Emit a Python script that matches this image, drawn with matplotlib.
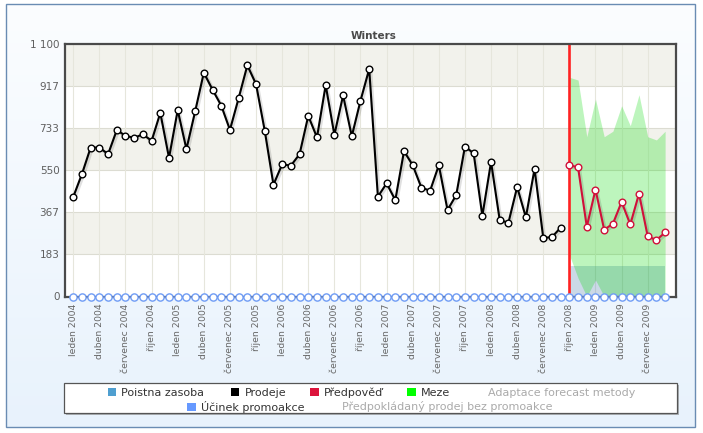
import matplotlib
matplotlib.use("Agg")
import matplotlib.pyplot as plt
import matplotlib.patheffects as pe
from matplotlib.patches import Rectangle
import numpy as np

# ---------------- data ----------------
sales = [434, 534, 649, 649, 620, 725, 700, 691, 707, 678,
         800, 604, 812, 642, 806, 975, 901, 832, 726, 864,
         1007, 925, 722, 487, 576, 570, 620, 787, 693, 921,
         704, 876, 698, 853, 991, 435, 493, 420, 633, 572,
         474, 461, 572, 377, 442, 653, 624, 351, 586, 332,
         322, 477, 345, 556, 255, 259, 300]
forecast = [573, 562, 304, 466, 291, 317, 412, 314, 448, 262, 246, 279]
bound_upper = [955, 943, 696, 860, 696, 720, 831, 744, 879, 696, 682, 720]
bound_lower = [181, 80, 0, 72, 0, 0, 0, 0, 0, 0, 0, 0]
safety_stock = [133, 133, 133, 133, 133, 133, 133, 133, 133, 133, 133, 133]
promo_effect = [0] * 69

tick_labels = ["leden 2004", "duben 2004", "červenec 2004", "říjen 2004",
               "leden 2005", "duben 2005", "červenec 2005", "říjen 2005",
               "leden 2006", "duben 2006", "červenec 2006", "říjen 2006",
               "leden 2007", "duben 2007", "červenec 2007", "říjen 2007",
               "leden 2008", "duben 2008", "červenec 2008", "říjen 2008",
               "leden 2009", "duben 2009", "červenec 2009"]
y_ticks = [0, 183.33, 366.67, 550, 733.33, 916.67, 1100]
y_tick_labels = ["0", "183", "367", "550", "733", "917", "1 100"]
title = "Winters"

legend_row1 = ["Poistna zasoba", "Prodeje", "Předpověď", "Meze", "Adaptace forecast metody"]
legend_row2 = ["Účinek promoakce", "Předpokládaný prodej bez promoakce"]

# ---------------- figure ----------------
W, H = 703, 433
fig = plt.figure(figsize=(W / 100, H / 100), dpi=100)
fig.patch.set_facecolor("white")

# background with gradient and border
bg = fig.add_axes([0, 0, 1, 1], zorder=-10)
bg.axis("off")
grad = np.linspace(0, 1, 200).reshape(-1, 1)
c_top = np.array([0.985, 0.992, 1.0])
c_bot = np.array([0.91, 0.95, 0.99])
img = c_top[None, None, :] * (1 - grad[:, :, None]) + c_bot[None, None, :] * grad[:, :, None]
bg.imshow(img, extent=(6, 695, 427, 4), aspect="auto", interpolation="bilinear")
bg.add_patch(Rectangle((6, 4), 689, 423, fill=False, edgecolor="#6a8cb3", lw=1.0))
bg.set_xlim(0, W)
bg.set_ylim(H, 0)

# main axes
L, R, T, B = 65, 676, 44, 296.5
ax = fig.add_axes([L / W, 1 - B / H, (R - L) / W, (B - T) / H])
ax.set_facecolor("white")

n_sales = len(sales)
x_sales = np.arange(n_sales)
x_fc = np.arange(n_sales, n_sales + len(forecast))
x_all = np.arange(len(promo_effect))

ax.set_xlim(-0.95, 69.25)
ax.set_ylim(0, 1100)

# bands
for k in range(6):
    if k % 2 == 1:
        ax.axhspan(y_ticks[k], y_ticks[k + 1], color="#f2f2ec", zorder=0, lw=0)
for yt in y_ticks[1:-1]:
    ax.axhline(yt, color="#dcdcd2", lw=0.8, zorder=0.5)
for xt in x_all[::3]:
    ax.axvline(xt, color="#e6e6dc", lw=0.8, zorder=0.5)

# safety stock & bounds
ax.fill_between(x_fc, 0, safety_stock, color=(0.38, 0.55, 0.72), alpha=0.33, lw=0, zorder=1)
ax.fill_between(x_fc, bound_lower, bound_upper, color=(0.0, 0.86, 0.0), alpha=0.26, lw=0, zorder=1.2)

# forecast start line
ax.axvline(n_sales, color="#ff2222", lw=1.9, zorder=2)

shadow = [pe.SimpleLineShadow(offset=(1.0, -1.0), shadow_color="k", alpha=0.12, linewidth=2.4), pe.Normal()]
ax.plot(x_sales, sales, color="black", lw=1.5, zorder=3, path_effects=shadow, solid_joinstyle="round")
ax.plot(x_sales, sales, ls="none", marker="o", ms=4.8, mfc="white", mec="black", mew=1.0, zorder=4)
ax.plot(x_fc, forecast, color="#d0103a", lw=1.5, zorder=3, path_effects=shadow, solid_joinstyle="round")
ax.plot(x_fc, forecast, ls="none", marker="o", ms=4.8, mfc="white", mec="#d0103a", mew=1.0, zorder=4)

ax.plot(x_all, promo_effect, ls="none", marker="o", ms=5.2, mfc="white", mec="#6f9cf5",
        mew=1.0, zorder=6, clip_on=False)

# axes styling
for s in ax.spines.values():
    s.set_color("#4a4a4a")
    s.set_linewidth(1.6)
    s.set_zorder(5)
ax.set_yticks(y_ticks)
ax.set_yticklabels(y_tick_labels, fontsize=7.5, color="#5f5f5f")
ax.set_xticks(x_all[::3])
ax.set_xticklabels(tick_labels, rotation=90, fontsize=6.7, color="#666666", va="top", ha="center")
ax.tick_params(axis="both", length=0)
ax.tick_params(axis="y", pad=4)
ax.tick_params(axis="x", pad=5)

fig.text(373.5 / W, 1 - 36 / H, title, fontsize=7.5, fontweight="bold", color="#4a4a4a",
         ha="center", va="center")

# legend (overlay in pixel coords)
lg = fig.add_axes([0, 0, 1, 1], zorder=10)
lg.set_xlim(0, W)
lg.set_ylim(H, 0)
lg.axis("off")
lg.patch.set_alpha(0)
lg.add_patch(Rectangle((66, 385), 613, 30, facecolor="#888888", edgecolor="none", alpha=0.6))
lg.add_patch(Rectangle((64, 383), 613, 30, facecolor="white", edgecolor="#555555", lw=0.9))

row1_sq = [107.8, 230.6, 310.0, 407.0, None]
row1_tx = [121.2, 244.5, 324.0, 421.0, 487.8]
row1_col = ["#4f9fd0", "#000000", "#dc143c", "#00ff00", None]
row2_sq = [187.0, None]
row2_tx = [200.8, 341.6]
row2_col = ["#6699ff", None]

def draw_row(labels, sqs, txs, cols, yc):
    for lab, sx, tx, c in zip(labels, sqs, txs, cols):
        if sx is not None:
            lg.add_patch(Rectangle((sx, yc - 4), 8.5, 8, facecolor=c, edgecolor="none"))
            tc = "#333333"
        else:
            tc = "#aaaaaa"
        lg.text(tx, yc + 0.5, lab, fontsize=8, color=tc, ha="left", va="center")

draw_row(legend_row1, row1_sq, row1_tx, row1_col, 392)
draw_row(legend_row2, row2_sq, row2_tx, row2_col, 406.5)

fig.savefig("out.png", dpi=100)
